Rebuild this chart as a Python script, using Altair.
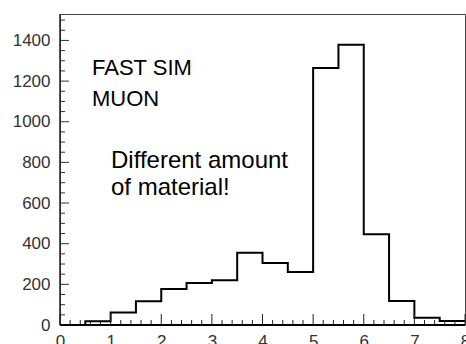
import altair as alt
import pandas as pd

# Histogram: bin edges (width 0.5) and bin contents
bin_lo = [0.0, 0.5, 1.0, 1.5, 2.0, 2.5, 3.0, 3.5, 4.0, 4.5, 5.0, 5.5, 6.0, 6.5, 7.0, 7.5]
counts = [0, 18, 61, 117, 177, 207, 220, 355, 305, 261, 1264, 1379, 447, 118, 36, 20]
x_max = 8.0
y_max = 1530

# Axis tick positions
x_major = [0, 1, 2, 3, 4, 5, 6, 7, 8]
x_minor = [i / 5 for i in range(0, 41) if i % 5 != 0]
y_major = [0, 200, 400, 600, 800, 1000, 1200, 1400]
y_minor = [v for v in range(50, 1530, 50) if v % 200 != 0]

W, H = 405, 311

# step outline: each bin's left edge, plus the closing right edge
hist = pd.DataFrame({"x": bin_lo + [x_max], "n": counts + [counts[-1]]})

xs = alt.Scale(domain=[0, x_max], nice=False, zero=False)
ys = alt.Scale(domain=[0, y_max], nice=False)

font = "Liberation Sans"

line = alt.Chart(hist).mark_line(
    interpolate="step-after", color="black", strokeWidth=2
).encode(
    x=alt.X("x:Q", scale=xs, axis=alt.Axis(
        values=x_major, title=None, grid=False, domain=False, ticks=False,
        tickSize=0, labelPadding=8, labelFont=font, labelFontSize=17,
        labelColor="#333", labelFlush=False, format="d")),
    y=alt.Y("n:Q", scale=ys, axis=alt.Axis(
        values=y_major, title=None, grid=False, domain=False, ticks=False,
        tickSize=0, labelPadding=10, labelFont=font, labelFontSize=17,
        labelColor="#333", format="d")),
)

ymaj = alt.Chart(pd.DataFrame({"v": y_major})).mark_rule(color="#333", strokeWidth=1).encode(
    y=alt.Y("v:Q", scale=ys), x=alt.value(0), x2=alt.value(9))
ymin = alt.Chart(pd.DataFrame({"v": y_minor})).mark_rule(color="#333", strokeWidth=1).encode(
    y=alt.Y("v:Q", scale=ys), x=alt.value(0), x2=alt.value(5))
xmaj = alt.Chart(pd.DataFrame({"v": x_major})).mark_rule(color="#222", strokeWidth=1).encode(
    x=alt.X("v:Q", scale=xs), y=alt.value(H), y2=alt.value(H - 11))
xmin = alt.Chart(pd.DataFrame({"v": x_minor})).mark_rule(color="#222", strokeWidth=1).encode(
    x=alt.X("v:Q", scale=xs), y=alt.value(H), y2=alt.value(H - 5))

# bottom axis line and left axis line
xaxis_line = alt.Chart(pd.DataFrame({"v": [0]})).mark_rule(color="black", strokeWidth=2).encode(
    y=alt.Y("v:Q", scale=ys), x=alt.value(0), x2=alt.value(W))
yaxis_line = alt.Chart(pd.DataFrame({"v": [0]})).mark_rule(color="#222", strokeWidth=1.5).encode(
    x=alt.X("v:Q", scale=xs), y=alt.value(0), y2=alt.value(H))

def label(text, px, py, size):
    return alt.Chart(pd.DataFrame({"t": [text]})).mark_text(
        align="left", baseline="alphabetic", font=font, fontSize=size, color="black"
    ).encode(text="t:N", x=alt.value(px), y=alt.value(py))

texts = (
    label("FAST SIM", 32, 61, 22)
    + label("MUON", 32, 92, 22)
    + label("Different amount", 51, 154, 24)
    + label("of material!", 51, 181, 24)
)

chart = alt.layer(
    line, ymaj, ymin, xmaj, xmin, xaxis_line, yaxis_line, texts
).properties(
    width=W, height=H,
    autosize=alt.AutoSizeParams(type="none"),
    padding={"left": 60, "top": 14, "right": 1, "bottom": 19},
    background="white",
).configure_view(stroke="#444", strokeWidth=1)

chart.save("out.html", embed_options={"renderer": "svg", "actions": False})
